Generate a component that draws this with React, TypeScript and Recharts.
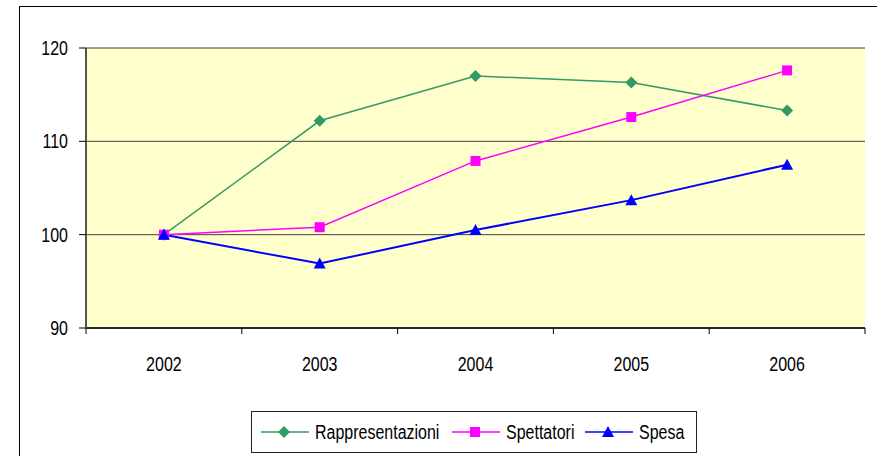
import React from "react";
import {
  LineChart,
  Line,
  XAxis,
  YAxis,
  CartesianGrid,
  Legend,
} from "recharts";

const years = ["2002", "2003", "2004", "2005", "2006"];
const rappresentazioni = [100, 112.2, 117.0, 116.3, 113.3];
const spettatori = [100, 100.8, 107.9, 112.6, 117.6];
const spesa = [100, 96.9, 100.5, 103.7, 107.5];
const yTicks = [90, 100, 110, 120];

const series = [
  { key: "rappresentazioni", name: "Rappresentazioni", color: "#339966", shape: "diamond", width: 1.5 },
  { key: "spettatori", name: "Spettatori", color: "#FF00FF", shape: "square", width: 1.5 },
  { key: "spesa", name: "Spesa", color: "#0000FF", shape: "triangle", width: 2 },
];

const data = years.map((year, i) => ({
  year,
  rappresentazioni: rappresentazioni[i],
  spettatori: spettatori[i],
  spesa: spesa[i],
}));

// no narrow font installed: squeeze Liberation Sans horizontally instead
const FONT = '"Liberation Sans", Arial, sans-serif';
const FONT_SIZE = 19.5;
const SQUEEZE = 0.82;
const X_TICK_SIZE = 6;
const X_TICK_MARGIN = 23;

function NarrowText({ x, y, anchor, dy, children }: any) {
  return (
    <text
      transform={`translate(${x},${y}) scale(${SQUEEZE},1)`}
      textAnchor={anchor}
      dy={dy}
      fill="#000"
      fontFamily={FONT}
      fontSize={FONT_SIZE}
    >
      {children}
    </text>
  );
}

const YTick = ({ x, y, payload }: any) => (
  <NarrowText x={x} y={y} anchor="end" dy="0.355em">
    {payload.value}
  </NarrowText>
);

// label at band centre, tick marks on the band edges (Excel style)
const XTick = ({ x, y, payload, width, visibleTicksCount, index }: any) => {
  const half = payload.offset || width / visibleTicksCount / 2;
  const axisY = y - X_TICK_SIZE - X_TICK_MARGIN;
  const last = index === visibleTicksCount - 1;
  return (
    <g>
      <line x1={x - half} y1={axisY} x2={x - half} y2={axisY + X_TICK_SIZE} stroke="#000" />
      {last && (
        <line x1={x + half} y1={axisY} x2={x + half} y2={axisY + X_TICK_SIZE} stroke="#000" />
      )}
      <NarrowText x={x} y={y} anchor="middle" dy="0.71em">
        {payload.value}
      </NarrowText>
    </g>
  );
};

function Marker({ cx, cy, shape, color }: any) {
  if (cx == null || cy == null) return null;
  if (shape === "diamond") {
    return (
      <polygon
        points={`${cx},${cy - 6} ${cx + 6},${cy} ${cx},${cy + 6} ${cx - 6},${cy}`}
        fill={color}
      />
    );
  }
  if (shape === "square") {
    return <rect x={cx - 5} y={cy - 5} width={10} height={10} fill={color} />;
  }
  return (
    <polygon
      points={`${cx},${cy - 6} ${cx + 6},${cy + 5} ${cx - 6},${cy + 5}`}
      fill={color}
    />
  );
}

// start of each legend item inside the box
const legendItemX = [10, 201, 334];

function LegendBox() {
  return (
    <svg width={446} height={42} style={{ display: "block" }}>
      <rect x={0.5} y={0.5} width={445} height={41} fill="#fff" stroke="#222" />
      {series.map((s, i) => {
        const x0 = legendItemX[i];
        return (
          <g key={s.key}>
            <line x1={x0} y1={21} x2={x0 + 48} y2={21} stroke={s.color} strokeWidth={1.5} />
            <Marker cx={x0 + 23} cy={21} shape={s.shape} color={s.color} />
            <NarrowText x={x0 + 54} y={21} anchor="start" dy="0.355em">
              {s.name}
            </NarrowText>
          </g>
        );
      })}
    </svg>
  );
}

export default function App() {
  return (
    <div
      style={{
        position: "absolute",
        left: 0,
        top: 0,
        width: 877,
        height: 456,
        overflow: "hidden",
        background: "#fff",
      }}
    >
      <div
        style={{
          position: "absolute",
          left: 19,
          top: 6,
          width: 900,
          height: 500,
          border: "1px solid #000",
        }}
      />
      <div style={{ position: "absolute", left: 0, top: 0 }}>
        <LineChart
          width={877}
          height={456}
          data={data}
          margin={{ top: 48, right: 12, left: 26, bottom: 98 }}
        >
          <CartesianGrid vertical={false} stroke="#404040" fill="#FFFFCC" fillOpacity={1} />
          <XAxis
            dataKey="year"
            scale="band"
            height={30}
            axisLine={{ stroke: "#000", strokeWidth: 1.5 }}
            tickLine={false}
            tickSize={X_TICK_SIZE}
            tickMargin={X_TICK_MARGIN}
            tick={<XTick />}
            interval={0}
          />
          <XAxis
            xAxisId="top"
            orientation="top"
            dataKey="year"
            scale="band"
            height={0}
            tick={false}
            tickLine={false}
            axisLine={{ stroke: "#808080", strokeWidth: 1.5 }}
          />
          <YAxis
            domain={[90, 120]}
            ticks={yTicks}
            width={60}
            tickSize={7}
            tickMargin={11}
            axisLine={{ stroke: "#555", strokeWidth: 2 }}
            tickLine={{ stroke: "#000" }}
            tick={<YTick />}
          />
          <YAxis
            yAxisId="right"
            orientation="right"
            width={0}
            domain={[90, 120]}
            tick={false}
            tickLine={false}
            axisLine={{ stroke: "#808080", strokeWidth: 1.5 }}
          />
          {series.map((s) => (
            <Line
              key={s.key}
              type="linear"
              dataKey={s.key}
              name={s.name}
              stroke={s.color}
              strokeWidth={s.width}
              isAnimationActive={false}
              dot={(p: any) => (
                <Marker key={`${s.key}-${p.index}`} cx={p.cx} cy={p.cy} shape={s.shape} color={s.color} />
              )}
              activeDot={false}
            />
          ))}
          <Legend
            layout="horizontal"
            verticalAlign="middle"
            align="center"
            content={() => <LegendBox />}
            wrapperStyle={{ left: 251, top: 411, width: 446, height: 42 }}
          />
        </LineChart>
      </div>
    </div>
  );
}
